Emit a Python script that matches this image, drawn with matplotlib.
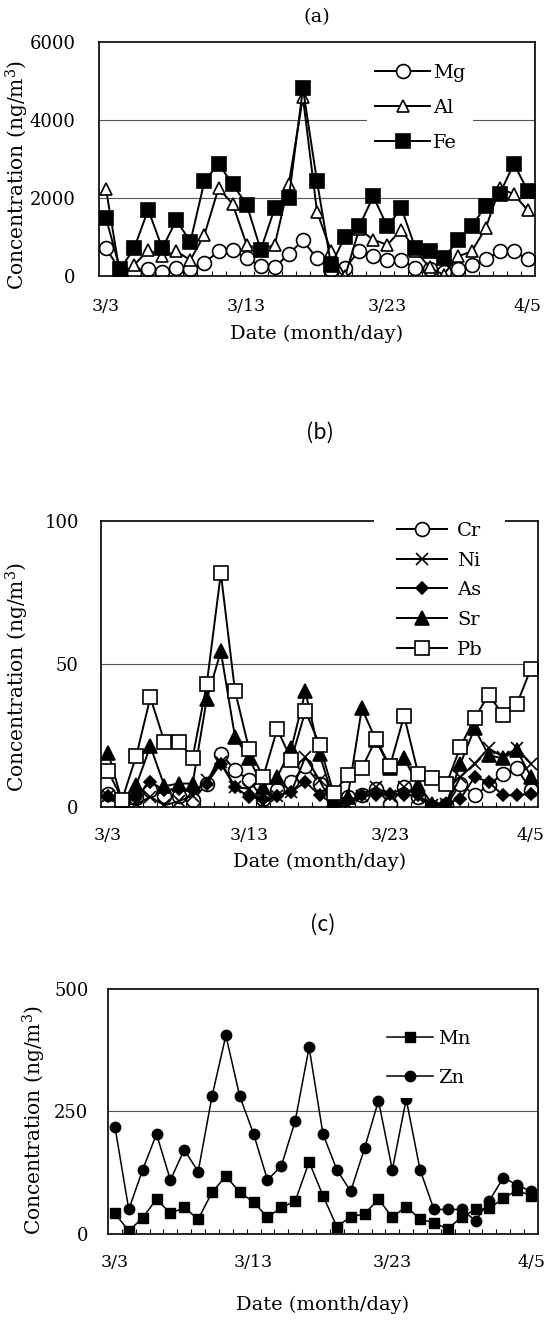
import matplotlib
matplotlib.use('Agg')
import matplotlib.pyplot as plt
import numpy as np
from matplotlib.patches import Rectangle

plt.rcParams['font.family'] = 'DejaVu Serif'
plt.rcParams['mathtext.fontset'] = 'dejavuserif'

# sampling days 3/3 .. 4/5 (31 samples), only some dates labelled
n_samples = 31
date_labels = ['3/3', '3/13', '3/23', '4/5']
date_index = [0, 10, 20, 30]

# (a) major elements, ng/m3
mg = [710, 150, 70, 170, 110, 200, 170, 340, 630, 670, 450, 260, 220, 570, 910, 450,
      150, 200, 650, 510, 410, 410, 200, 170, 110, 170, 280, 430, 630, 630, 430]
al = [2230, 30, 280, 670, 500, 630, 410, 1060, 2250, 1850, 800, 680, 800, 2370, 4580, 1650,
      630, 0, 1200, 930, 800, 1190, 650, 220, 30, 500, 630, 1230, 2260, 2090, 1680]
fe = [1480, 170, 710, 1700, 710, 1430, 880, 2430, 2880, 2350, 1830, 670, 1740, 2000, 4810, 2430,
      280, 1010, 1270, 2040, 1270, 1740, 710, 630, 450, 910, 1270, 1800, 2110, 2880, 2170]

# (b) trace elements, ng/m3
cr = [4.4, 0.5, 3.0, 5.9, 4.0, 4.0, 2.3, 8.2, 18.7, 12.9, 9.4, 2.9, 5.9, 8.8, 14.3, 8.2,
      2.3, 3.5, 4.1, 6.4, 1.2, 7.0, 3.5, 0.0, 0.6, 8.2, 4.1, 7.6, 11.7, 13.5, 5.9]
ni = [4.0, 1.0, 1.0, 3.5, 0.6, 2.0, 4.0, 9.4, 15.8, 7.0, 6.4, 1.2, 4.0, 5.3, 17.6, 9.4,
      0.0, 0.6, 4.0, 7.0, 4.0, 7.0, 3.5, 0.6, 1.2, 10.5, 15.2, 20.5, 17.6, 20.5, 15.2]
as_ = [4.0, 0.6, 3.7, 8.8, 5.9, 6.4, 5.9, 8.2, 15.2, 7.0, 3.5, 2.9, 4.0, 5.3, 8.8, 4.1,
       1.2, 2.3, 4.1, 4.1, 4.7, 4.1, 4.1, 0.6, 1.2, 2.9, 10.5, 8.8, 4.1, 4.1, 4.7]
sr = [19.0, 2.0, 7.6, 21.3, 7.3, 8.2, 8.2, 37.7, 54.4, 24.6, 17.0, 7.0, 10.5, 20.5, 40.4, 18.4,
      2.6, 3.5, 34.5, 23.4, 13.5, 17.0, 7.6, 1.2, 1.2, 15.2, 27.5, 18.1, 17.0, 19.9, 10.5]
pb = [12.6, 2.6, 17.9, 38.3, 22.8, 22.8, 17.3, 43.0, 81.7, 40.7, 20.3, 10.5, 27.2, 16.6, 33.6, 21.7,
      4.9, 11.1, 13.5, 23.7, 14.3, 31.9, 11.7, 10.0, 8.0, 21.1, 31.0, 39.3, 32.3, 36.0, 48.4]

# (c)
mn = [42, 6, 33, 71, 42, 54, 30, 85, 118, 85, 65, 34, 54, 67, 147, 78,
      15, 35, 41, 71, 34, 56, 30, 23, 10, 35, 50, 52, 73, 89, 78]
zn = [219, 50, 131, 204, 110, 172, 127, 281, 405, 281, 204, 110, 139, 231, 381, 204,
      131, 87, 175, 272, 131, 275, 131, 50, 50, 50, 27, 68, 115, 100, 87]

x = np.arange(n_samples)

fig = plt.figure(figsize=(5.49, 13.23), dpi=100)
ax_a = fig.add_axes([0.1803, 0.7914, 0.7942, 0.1769])
ax_b = fig.add_axes([0.1840, 0.3900, 0.7960, 0.2162])
ax_c = fig.add_axes([0.1967, 0.0673, 0.7832, 0.1852])


def setup(ax, yticks, ypad, xpad, xlabpad, ylab_pos, title, title_pad, title_font, title_size):
    ax.set_xlim(-0.5, n_samples - 0.5)
    ax.set_ylim(yticks[0], yticks[-1])
    ax.set_xticks(date_index)
    ax.set_xticklabels(date_labels)
    ax.set_xticks(np.arange(0.5, n_samples - 1, 1), minor=True)
    ax.tick_params(axis='x', which='major', length=0, pad=xpad, labelsize=12.5)
    ax.tick_params(axis='x', which='minor', direction='in', length=3.8, width=0.8)
    ax.set_yticks(yticks)
    ax.tick_params(axis='y', which='both', length=0, pad=ypad, labelsize=13)
    for v in yticks[1:-1]:
        ax.axhline(v, color='#555555', lw=0.8, zorder=1)
    for s in ax.spines.values():
        s.set_linewidth(1.2)
    ax.set_xlabel('Date (month/day)', fontsize=14, labelpad=xlabpad)
    ax.set_ylabel('Concentration (ng/m$^3$)', fontsize=14.5)
    ax.yaxis.set_label_coords(*ylab_pos)
    ax.set_title(title, pad=title_pad, fontsize=title_size, family=title_font)


def legend_blank(ax, x0, y0, w, h):
    # white block under a frameless legend, hides whatever lies behind it
    ax.add_patch(Rectangle((x0, y0), w, h, transform=ax.transAxes,
                           facecolor='white', edgecolor='none', zorder=4, clip_on=False))


# (a)
kw = dict(color='black', lw=1.4, mew=1.2, mec='black')
ax_a.plot(x, mg, marker='o', ms=10, mfc='white', label='Mg', **kw)
ax_a.plot(x, al, marker='^', ms=9, mfc='white', label='Al', **kw)
ax_a.plot(x, fe, marker='s', ms=9.5, mfc='black', label='Fe', **kw)
setup(ax_a, [0, 2000, 4000, 6000], 17, 16, 7, (-0.156, 0.43), '(a)', 14, 'DejaVu Serif', 14)
ax_a.legend(loc='upper left', bbox_to_anchor=(0.615, 0.940), borderaxespad=0,
            fontsize=14, frameon=True, facecolor='white', edgecolor='none', framealpha=1,
            fancybox=False, handlelength=2.85, handletextpad=0.15, labelspacing=0.88,
            borderpad=0.4)

# (b)
ax_b.plot(x, cr, marker='o', ms=10, mfc='white', label='Cr', **kw)
ax_b.plot(x, ni, marker='x', ms=9, label='Ni', **kw)
ax_b.plot(x, as_, marker='D', ms=6.5, mfc='black', label='As', **kw)
ax_b.plot(x, sr, marker='^', ms=9.5, mfc='black', label='Sr', **kw)
ax_b.plot(x, pb, marker='s', ms=10, mfc='white', label='Pb', **kw)
setup(ax_b, [0, 50, 100], 16, 14.5, 6, (-0.16, 0.455), '(b)', 59, 'Noto Sans CJK JP', 15.5)
# the legend block runs over the top frame line
legend_blank(ax_b, 0.625, 0.524, 0.300, 0.531)
ax_b.legend(loc='upper left', bbox_to_anchor=(0.659, 1.024), borderaxespad=0,
            fontsize=14, frameon=False, handlelength=2.6, handletextpad=0.5,
            labelspacing=0.6, borderpad=0.4)

# (c)
kw_c = dict(color='black', lw=1.1, mew=1.0, mec='black', mfc='black')
ax_c.plot(x, mn, marker='s', ms=7, label='Mn', **kw_c)
ax_c.plot(x, zn, marker='o', ms=7.5, label='Zn', **kw_c)
setup(ax_c, [0, 250, 500], 14, 14.5, 18, (-0.14, 0.465), '(c)', 42, 'Noto Sans CJK JP', 15.5)
legend_blank(ax_c, 0.644, 0.555, 0.337, 0.367)
ax_c.legend(loc='upper left', bbox_to_anchor=(0.630, 0.866), borderaxespad=0,
            fontsize=14, frameon=False, handlelength=2.4, handletextpad=0.26,
            labelspacing=1.11, borderpad=0.4)

fig.savefig('out.png', dpi=100)
